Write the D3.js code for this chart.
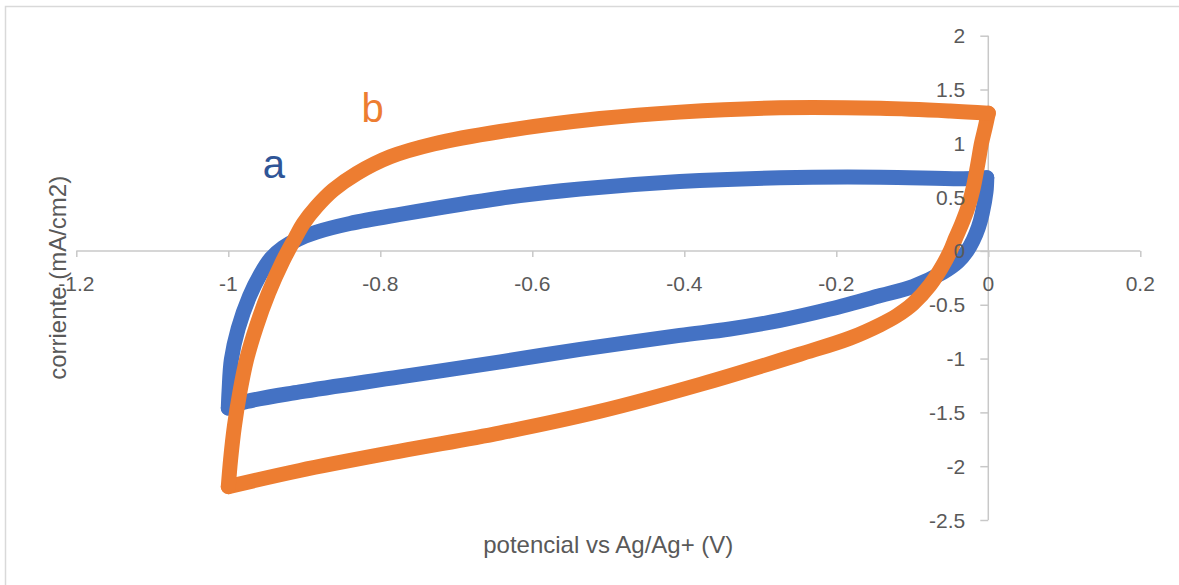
<!DOCTYPE html>
<html>
<head>
<meta charset="utf-8">
<script src="https://cdn.jsdelivr.net/npm/d3@7"></script>
<style>
  body { margin: 0; background: #fff; }
  svg { font-family: "Liberation Sans", Arial, sans-serif; }
</style>
</head>
<body>
<script>
// Tick values
var xTicks = [-1.2, -1, -0.8, -0.6, -0.4, -0.2, 0, 0.2];
var yTicks = [-2.5, -2, -1.5, -1, -0.5, 0, 0.5, 1, 1.5, 2];

// Curve a (blue): potential (V) and current (mA/cm2), one full cycle
var aPot = [-0.002, -0.003, -0.008, -0.013, -0.020, -0.028, -0.040, -0.060, -0.099, -0.142, -0.208, -0.274, -0.340, -0.406, -0.537, -0.642, -0.774, -0.906, -0.976, -1.000,
            -0.999, -0.996, -0.987, -0.972, -0.958, -0.944, -0.928, -0.908, -0.884, -0.840, -0.774, -0.642, -0.537, -0.406, -0.274, -0.142, -0.033, -0.002];
var aCur = [0.68, 0.55, 0.35, 0.22, 0.10, 0.0, -0.10, -0.20, -0.33, -0.415, -0.54, -0.645, -0.725, -0.785, -0.915, -1.03, -1.17, -1.31, -1.40, -1.46,
            -1.30, -1.01, -0.72, -0.42, -0.22, -0.07, 0.03, 0.11, 0.175, 0.255, 0.34, 0.49, 0.575, 0.645, 0.68, 0.685, 0.67, 0.68];

// Curve b (orange)
var bPot = [0.000, -0.004, -0.009, -0.014, -0.020, -0.027, -0.035, -0.043, -0.050, -0.062, -0.077, -0.099, -0.120, -0.142, -0.182, -0.248, -0.379, -0.511, -0.642, -0.774, -0.906, -1.000,
            -0.997, -0.992, -0.985, -0.976, -0.963, -0.947, -0.928, -0.912, -0.901, -0.884, -0.862, -0.831, -0.787, -0.730, -0.642, -0.511, -0.406, -0.274, -0.142, -0.050, 0.000];
var bCur = [1.28, 1.15, 1.00, 0.80, 0.58, 0.40, 0.25, 0.12, 0.0, -0.16, -0.32, -0.49, -0.60, -0.685, -0.81, -0.96, -1.24, -1.49, -1.69, -1.86, -2.04, -2.19,
            -1.94, -1.63, -1.32, -1.01, -0.70, -0.39, -0.09, 0.12, 0.257, 0.41, 0.566, 0.72, 0.875, 0.994, 1.11, 1.23, 1.29, 1.33, 1.325, 1.30, 1.28];

var series = [
  {name: "a", pot: aPot, cur: aCur, color: "#4472c4", labelColor: "#2f5597", lx: -0.94, ly: 0.68},
  {name: "b", pot: bPot, cur: bCur, color: "#ed7d31", labelColor: "#ed7d31", lx: -0.81, ly: 1.20}
];

var width = 1179, height = 585;

var x = d3.scaleLinear().domain([-1.2, 0.2]).range([76.3, 1140.3]);
var y = d3.scaleLinear().domain([-2.5, 2]).range([520, 35.7]);

var svg = d3.select("body").append("svg").attr("width", width).attr("height", height);

// chart border
svg.append("rect")
   .attr("x", 5.5).attr("y", 6.5).attr("width", 1200).attr("height", 600)
   .attr("fill", "none").attr("stroke", "#d9d9d9").attr("stroke-width", 1.5);

var fmt = function(d){ return String(+d.toFixed(1)); };

var xAxis = d3.axisBottom(x).tickValues(xTicks).tickSize(6).tickFormat(fmt);
var yAxis = d3.axisLeft(y).tickValues(yTicks).tickSize(8).tickFormat(fmt);

var gx = svg.append("g").attr("transform", "translate(0," + y(0) + ")").call(xAxis);
var gy = svg.append("g").attr("transform", "translate(" + x(0) + ",0)").call(yAxis);

[gx, gy].forEach(function(g){
  g.selectAll(".domain").attr("stroke", "#c8c8c8").attr("stroke-width", 1.5);
  g.selectAll(".tick line").attr("stroke", "#c8c8c8").attr("stroke-width", 1.5);
  g.selectAll("text").remove();
});
gx.select(".domain").attr("d", "M" + x(-1.2) + ",0H" + x(0.2));
gy.select(".domain").attr("d", "M0," + y(2) + "V" + y(-2.5));

// curves: each cycle split at its turning point so the corners stay sharp
var line = d3.line()
  .x(function(d){ return x(d[0]); })
  .y(function(d){ return y(d[1]); })
  .curve(d3.curveCatmullRom.alpha(0.5));

series.forEach(function(s){
  var pts = s.pot.map(function(p, i){ return [p, s.cur[i]]; });
  var turn = d3.minIndex(s.pot);
  [pts.slice(0, turn + 1), pts.slice(turn)].forEach(function(branch){
    svg.append("path")
       .attr("d", line(branch))
       .attr("fill", "none")
       .attr("stroke", s.color)
       .attr("stroke-width", 15)
       .attr("stroke-linejoin", "round")
       .attr("stroke-linecap", "round");
  });
});

// tick labels on top of the curves
svg.append("g").selectAll("text").data(xTicks).enter().append("text")
   .attr("x", function(d){ return x(d); })
   .attr("y", y(0) + 40)
   .attr("text-anchor", "middle")
   .attr("font-size", 21).attr("fill", "#595959")
   .text(fmt);

svg.append("g").selectAll("text").data(yTicks).enter().append("text")
   .attr("x", x(0) - 23)
   .attr("y", function(d){ return y(d) + 7.5; })
   .attr("text-anchor", "end")
   .attr("font-size", 21).attr("fill", "#595959")
   .text(fmt);

// series labels
series.forEach(function(s){
  svg.append("text")
     .attr("x", x(s.lx)).attr("y", y(s.ly))
     .attr("text-anchor", "middle")
     .attr("font-size", 40).attr("fill", s.labelColor)
     .text(s.name);
});

// axis titles
svg.append("text")
   .attr("x", (x(-1.2) + x(0.2)) / 2).attr("y", 553)
   .attr("text-anchor", "middle")
   .attr("font-size", 24).attr("fill", "#595959")
   .text("potencial vs Ag/Ag+ (V)");

svg.append("text")
   .attr("transform", "translate(66," + (y(2) + y(-2.5)) / 2 + ") rotate(-90)")
   .attr("text-anchor", "middle")
   .attr("font-size", 24).attr("fill", "#595959")
   .text("corriente (mA/cm2)");
</script>
</body>
</html>
